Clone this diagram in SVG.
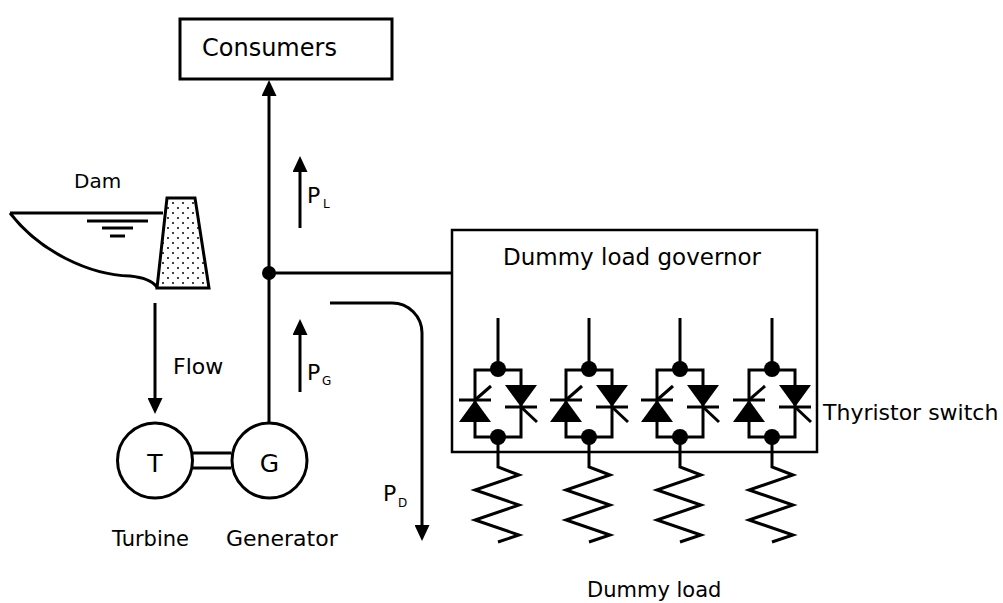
<svg xmlns="http://www.w3.org/2000/svg" width="1003" height="603" viewBox="0 0 1003 603">
  <style>
    .ln { fill: none; stroke: #000; stroke-width: 3; }
    .thin { fill: none; stroke: #000; stroke-width: 2.5; }
    .blk { fill: #000; stroke: none; }
    .box { fill: #fff; stroke: #000; stroke-width: 3; }
    text { font-family: "DejaVu Sans", "Liberation Sans", sans-serif; fill: #000; }
    .lbl { font-size: 22px; }
    .sub { font-size: 12px; }
  </style>
  <defs>
    <marker id="arrow" viewBox="0 0 16 15" refX="1" refY="7.5" markerWidth="16" markerHeight="15" markerUnits="userSpaceOnUse" orient="auto">
      <path d="M0,0 L16,7.5 L0,15 z" fill="#000"/>
    </marker>
    <pattern id="dots" width="10" height="10" patternUnits="userSpaceOnUse">
      <circle cx="3" cy="3" r="1" fill="#000"/>
      <circle cx="8" cy="8" r="1" fill="#000"/>
    </pattern>
    <!-- one anti-parallel thyristor pair with its dummy resistor, centred on x=0 -->
    <g id="cell">
      <line class="ln" x1="0" y1="318" x2="0" y2="369"/>
      <rect class="ln" x="-23" y="370" width="46" height="67"/>
      <!-- left thyristor, conducting upward -->
      <polygon class="blk" points="-39,422 -7,422 -23,400"/>
      <line class="ln" x1="-39" y1="400" x2="-7" y2="400"/>
      <line class="ln" x1="-23" y1="400" x2="-7" y2="386"/>
      <!-- right thyristor, conducting downward -->
      <polygon class="blk" points="7,385 39,385 23,407"/>
      <line class="ln" x1="7" y1="407" x2="39" y2="407"/>
      <line class="ln" x1="23" y1="407" x2="39" y2="422"/>
      <circle class="blk" cx="0" cy="369" r="8"/>
      <circle class="blk" cx="0" cy="437" r="8"/>
      <!-- resistor -->
      <polyline class="ln" points="0,437 0,467 21,475 -23,490 21,505 -23,520 21,535 0,542"/>
    </g>
  </defs>

  <!-- dam and reservoir -->
  <g id="dam">
    <path class="ln" d="M10,213 H163"/>
    <path class="ln" d="M10,213 C40,252 90,275 130,276 Q150,278 157,287"/>
    <line class="ln" x1="87" y1="221" x2="148" y2="221"/>
    <line class="ln" x1="102" y1="228" x2="133" y2="228"/>
    <line class="ln" x1="110" y1="236" x2="125" y2="236"/>
    <polygon points="167,198 195,198 209,288 157,288" fill="#fff"/>
    <polygon points="167,198 195,198 209,288 157,288" fill="url(#dots)" stroke="#000" stroke-width="3"/>
    <text x="74" y="188" font-size="20">Dam</text>
  </g>

  <!-- connectors -->
  <g id="connectors">
    <line class="ln" x1="269" y1="423" x2="269" y2="95" marker-end="url(#arrow)"/>
    <line class="ln" x1="269" y1="273" x2="452" y2="273"/>
    <line class="ln" x1="155" y1="303" x2="155" y2="399" marker-end="url(#arrow)"/>
    <line class="ln" x1="300" y1="228" x2="300" y2="171" marker-end="url(#arrow)"/>
    <line class="ln" x1="300" y1="392" x2="300" y2="334" marker-end="url(#arrow)"/>
    <path class="ln" d="M330,303 H392 A30,30 0 0 1 422,333 V526" marker-end="url(#arrow)"/>
    <line class="ln" x1="193" y1="453" x2="231" y2="453"/>
    <line class="ln" x1="193" y1="468" x2="231" y2="468"/>
    <circle class="blk" cx="269" cy="273" r="7"/>
  </g>

  <!-- flow quantity labels -->
  <g id="labels">
    <text class="lbl" x="173" y="374">Flow</text>
    <text class="lbl" x="307" y="203">P</text>
    <text class="sub" x="323" y="208">L</text>
    <text class="lbl" x="307" y="380">P</text>
    <text class="sub" x="322" y="385">G</text>
    <text class="lbl" x="383" y="501">P</text>
    <text class="sub" x="398" y="507">D</text>
  </g>

  <g id="consumers">
    <rect class="box" x="180" y="19" width="212" height="60"/>
    <text x="202" y="56" font-size="24">Consumers</text>
  </g>

  <g id="turbine">
    <circle class="ln" cx="155" cy="460.5" r="37.5"/>
    <text x="155" y="472" font-size="25" text-anchor="middle">T</text>
    <text x="112" y="546" font-size="21">Turbine</text>
  </g>

  <g id="generator">
    <circle class="ln" cx="269.5" cy="460.5" r="37.5"/>
    <text x="269.5" y="472" font-size="25" text-anchor="middle">G</text>
    <text x="226" y="546" class="lbl">Generator</text>
  </g>

  <g id="governor">
    <rect class="thin" x="452" y="230" width="365" height="222"/>
    <text x="503" y="265" font-size="23">Dummy load governor</text>
    <use href="#cell" x="498"/>
    <use href="#cell" x="589"/>
    <use href="#cell" x="680"/>
    <use href="#cell" x="772"/>
    <text x="823" y="420" class="lbl">Thyristor switch</text>
  </g>

  <g id="dummy-load">
    <text x="587" y="597" font-size="21">Dummy load</text>
  </g>
</svg>
